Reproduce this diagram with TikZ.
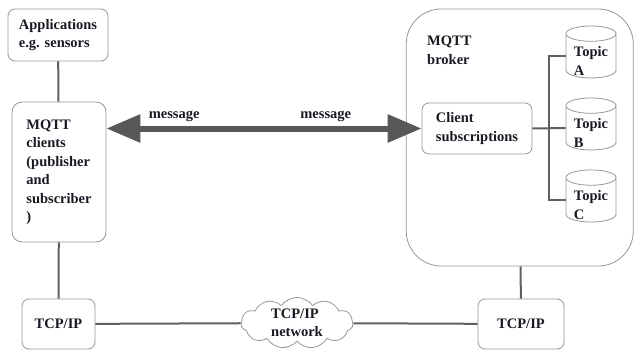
\documentclass[tikz,border=0pt]{standalone}
\usepackage{fontspec}
\setmainfont{Liberation Serif}
\usetikzlibrary{shapes.geometric,shapes.symbols,arrows.meta}
\definecolor{boxgray}{RGB}{150,150,150}
\definecolor{linegray}{RGB}{95,95,95}
\definecolor{arrowgray}{RGB}{88,88,88}
\definecolor{txtdark}{RGB}{25,25,35}

\begin{document}
\begin{tikzpicture}[x=1pt,y=-1pt,
	font=\fontsize{14.5}{18.5}\selectfont\bfseries,
	box/.style={draw=boxgray,line width=0.8pt,rounded corners=7pt,align=left,text=txtdark,inner sep=0pt},
	conn/.style={draw=linegray,line width=2pt},
	topic/.style={cylinder,shape border rotate=90,draw=boxgray,line width=0.8pt,aspect=0.45,
		minimum width=50pt,minimum height=48pt,inner sep=0pt,align=left},
	topiclbl/.style={align=left,text=txtdark,yshift=-5pt},
	msgarrow/.style={draw=arrowgray,line width=6pt,
		{Triangle[length=34pt,width=27pt]}-{Triangle[length=34pt,width=27pt]}}]
			\useasboundingbox (0,0) rectangle (634,351);
			\node [box,minimum width=100pt,minimum height=52pt] (apps) at (58,35) {Applications\\e.g. sensors};
			\node [box,rounded corners=10pt,minimum width=94pt,minimum height=140pt] (clients) at (59,172) {MQTT\\clients\\(publisher\\and\\subscriber\\)};
			\node [box,minimum width=73pt,minimum height=50pt] (tcpl) at (58.5,324) {TCP/IP};
			\node [cloud,cloud puffs=11,cloud puff arc=110,aspect=2.2,draw=boxgray,line width=0.8pt,
				minimum width=112pt,minimum height=50pt,inner sep=0pt,align=left,text=txtdark] (net) at (297,323) {TCP/IP\\network};
			\node [box,minimum width=86pt,minimum height=50pt] (tcpr) at (521,324) {TCP/IP};
			\node [box,rounded corners=35pt,minimum width=227pt,minimum height=257pt] (broker) at (519.75,137.5) {};
			\node [anchor=north west,align=left,text=txtdark,inner sep=0pt] (brokerlbl) at (427,36) {MQTT\\broker};
			\node [box,minimum width=110pt,minimum height=51pt] (subs) at (477,128.5) {Client\\subscriptions};
			\node [topic,label={[topiclbl]center:{Topic\\A}}] (topA) at (591,56) {\phantom{Topic}\\\phantom{A}};
			\node [topic,label={[topiclbl]center:{Topic\\B}}] (topB) at (591,128) {\phantom{Topic}\\\phantom{B}};
			\node [topic,label={[topiclbl]center:{Topic\\C}}] (topC) at (591,200) {\phantom{Topic}\\\phantom{C}};
			\coordinate (bus) at (549,128);
			\draw [conn] (apps) -- (clients);
			\draw [conn] (clients) -- (tcpl);
			\draw [conn] (tcpl) -- (net);
			\draw [conn] (net) -- (tcpr);
			\draw [conn] (tcpr) -- (broker);
			\draw [conn] (subs.east) -- (topB.180);
			\draw [conn] (topA.180) -| (bus) |- (topC.180);
			\draw [msgarrow] (clients.east |- subs.west) -- (subs.west)
				node [pos=0.215,above=0pt,text=txtdark] (msgl) {message}
				node [pos=0.696,above=0pt,text=txtdark] (msgr) {message};
\end{tikzpicture}
\end{document}
